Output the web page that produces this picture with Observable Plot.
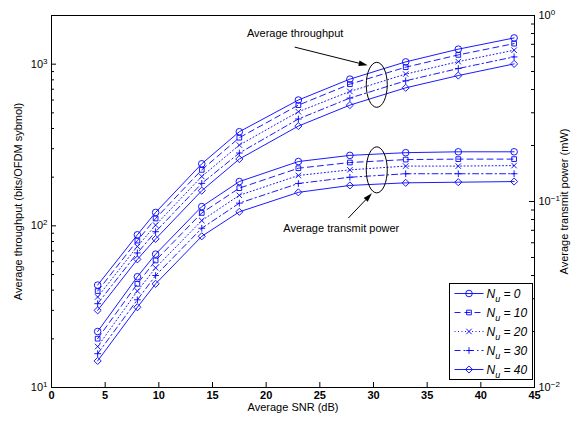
<!DOCTYPE html>
<html><head><meta charset="utf-8">
<script src="https://cdn.jsdelivr.net/npm/d3@7"></script>
<script src="https://cdn.jsdelivr.net/npm/@observablehq/plot@0.6"></script>
<style>
body{margin:0;background:#fff;}
#wrap{position:relative;width:574px;height:422px;font-family:"Liberation Sans",Arial,sans-serif;}
#wrap svg{position:absolute;left:0;top:0;}
</style></head><body><div id="wrap"></div>
<script>
// ---------- data ----------
const snr = [4.3, 8, 9.7, 14, 17.5, 23, 27.8, 33, 37.9, 43.1];
const nuLabels = ["0", "10", "20", "30", "40"];

// average throughput (bits/OFDM symbol), left axis
const thrNu0  = [43, 88, 121, 242, 382, 600, 808, 1033, 1238, 1453];
const thrNu10 = [39.5, 81, 111, 222, 351, 558, 752, 958, 1141, 1340];
const thrNu20 = [36.3, 74.5, 101, 202, 316, 508, 678, 868, 1037, 1220];
const thrNu30 = [33, 68, 92, 183, 282, 458, 617, 789, 940, 1109];
const thrNu40 = [30, 62, 83, 165, 259, 414, 558, 714, 850, 1004];

// average transmit power (mW), right axis
const powNu0  = [0.0200, 0.0394, 0.0521, 0.0939, 0.128, 0.164, 0.177, 0.183, 0.185, 0.185];
const powNu10 = [0.0183, 0.0361, 0.0482, 0.0868, 0.118, 0.151, 0.162, 0.168, 0.169, 0.169];
const powNu20 = [0.0166, 0.0330, 0.0440, 0.0790, 0.108, 0.138, 0.148, 0.155, 0.155, 0.156];
const powNu30 = [0.0152, 0.0296, 0.0400, 0.0718, 0.098, 0.125, 0.135, 0.141, 0.141, 0.141];
const powNu40 = [0.0139, 0.0270, 0.0361, 0.0650, 0.088, 0.112, 0.122, 0.126, 0.127, 0.128];

const xTicks = [0, 5, 10, 15, 20, 25, 30, 35, 40, 45];
const leftMajor = [10, 100, 1000];
const leftExponents = ["1", "2", "3"];
const leftMinor = [20, 30, 40, 50, 60, 70, 80, 90, 200, 300, 400, 500, 600, 700, 800, 900];
const rightMajor = [0.01, 0.1, 1];
const rightExponents = ["\u22122", "\u22121", "0"];
const rightMinor = [0.02, 0.03, 0.04, 0.05, 0.06, 0.07, 0.08, 0.09, 0.2, 0.3, 0.4, 0.5, 0.6, 0.7, 0.8, 0.9];

// annotations (data coordinates)
const thrNote = [{text: "Average throughput", x: 22.7, y: 1540}];
const thrArrow = [{x1: 22.7, y1: 1266, x2: 29.5, y2: 976}];
const thrEllipse = [{x: 30.35, y: 740}];
const powNote = [{text: "Average transmit power", x: 27.0, y: 0.0717}];
const powArrow = [{x1: 27.7, y1: 0.081, x2: 29.9, y2: 0.110}];
const powEllipse = [{x: 30.35, y: 0.147}];

// ---------- layout / style ----------
const W = 574, H = 422, mL = 51, mR = 40, mT = 15, mB = 35;
const plotW = W - mL - mR, plotH = H - mT - mB;
const blue = "#0000ff";
const font = '"Liberation Sans", Arial, sans-serif';
const styles = [
  {symbol: "circle", r: 3.3, dash: null},
  {symbol: "square2", r: 3.0, dash: "6,4"},
  {symbol: "times", r: 2.6, dash: "1,2.5"},
  {symbol: "plus", r: 2.3, dash: "6,3,1.5,3"},
  {symbol: "diamond2", r: 3.2, dash: null}
];
const thrSeries = [thrNu0, thrNu10, thrNu20, thrNu30, thrNu40];
const powSeries = [powNu0, powNu10, powNu20, powNu30, powNu40];
const rowsOf = (arr) => arr.map((v, j) => ({snr: snr[j], v}));

function seriesMarks(seriesList) {
  const marks = [];
  seriesList.forEach((vals, i) => {
    const s = styles[i], rows = rowsOf(vals);
    marks.push(Plot.line(rows, {x: "snr", y: "v", stroke: blue, strokeWidth: 0.9, strokeDasharray: s.dash}));
  });
  seriesList.forEach((vals, i) => {
    const s = styles[i], rows = rowsOf(vals);
    marks.push(Plot.dot(rows, {x: "snr", y: "v", symbol: () => s.symbol, r: s.r, stroke: blue, fill: "none", strokeWidth: 0.9}));
  });
  return marks;
}

function ellipseMark(data, rx, ry) {
  return (index, scales) => {
    const g = d3.create("svg:g");
    for (const d of data) {
      g.append("ellipse").attr("cx", scales.x(d.x)).attr("cy", scales.y(d.y))
        .attr("rx", rx).attr("ry", ry).attr("fill", "none").attr("stroke", "black").attr("stroke-width", 1);
    }
    return g.node();
  };
}
function arrowMark(data) {
  return (index, scales) => {
    const g = d3.create("svg:g");
    for (const d of data) {
      const x1 = scales.x(d.x1), y1 = scales.y(d.y1), x2 = scales.x(d.x2), y2 = scales.y(d.y2);
      const a = Math.atan2(y2 - y1, x2 - x1), L = 9, w = 2.8;
      const bx = x2 - L * Math.cos(a), by = y2 - L * Math.sin(a);
      g.append("line").attr("x1", x1).attr("y1", y1).attr("x2", bx).attr("y2", by).attr("stroke", "black").attr("stroke-width", 1);
      g.append("path").attr("d", `M${x2},${y2}L${bx + w * Math.sin(a)},${by - w * Math.cos(a)}L${bx - w * Math.sin(a)},${by + w * Math.cos(a)}Z`).attr("fill", "black");
    }
    return g.node();
  };
}

const common = {
  width: W, height: H, marginLeft: mL, marginRight: mR, marginTop: mT, marginBottom: mB,
  style: {fontFamily: font, fontSize: "11px", background: "transparent", overflow: "visible", color: "black"},
  x: {domain: [0, 45]}
};

// ---------- plot 1: throughput (left axis) ----------
const p1 = Plot.plot({
  ...common,
  y: {type: "log", domain: [10, 2000]},
  marks: [
    ...seriesMarks(thrSeries),
    Plot.frame({stroke: "black", strokeWidth: 1}),
    Plot.axisX({ticks: xTicks, tickSize: 0, tickPadding: 4, label: null, tickFormat: d => String(d), fontWeight: "bold"}),
    Plot.tickX(xTicks, {x: d => d, insetTop: plotH - 5, stroke: "black"}),
    Plot.axisY({anchor: "left", ticks: leftMajor, tickSize: 0, tickPadding: 4, label: null,
      tickFormat: d => "10^" + leftExponents[leftMajor.indexOf(d)]}),
    Plot.tickY(leftMajor, {y: d => d, insetRight: plotW - 5, stroke: "black"}),
    Plot.tickY(leftMinor, {y: d => d, insetRight: plotW - 3, stroke: "black"}),
    Plot.text(thrNote, {x: "x", y: "y", text: "text", fontSize: 11}),
    arrowMark(thrArrow),
    ellipseMark(thrEllipse, 10.5, 22.5),
    Plot.text(["Average throughput (bits/OFDM sybmol)"], {frameAnchor: "left", textAnchor: "middle", dx: -33, rotate: -90, fontSize: 11}),
    Plot.text(["Average SNR (dB)"], {frameAnchor: "bottom", dy: 23, fontSize: 11})
  ]
});

// ---------- plot 2: transmit power (right axis) ----------
const p2 = Plot.plot({
  ...common,
  x: {domain: [0, 45], axis: null},
  y: {type: "log", domain: [0.01, 1], axis: null},
  marks: [
    ...seriesMarks(powSeries),
    Plot.axisY({anchor: "right", ticks: rightMajor, tickSize: 0, tickPadding: 4, label: null,
      tickFormat: d => "10^" + rightExponents[rightMajor.indexOf(d)]}),
    Plot.tickY(rightMajor, {y: d => d, insetLeft: plotW - 5, stroke: "black"}),
    Plot.tickY(rightMinor, {y: d => d, insetLeft: plotW - 3, stroke: "black"}),
    Plot.text(powNote, {x: "x", y: "y", text: "text", fontSize: 11}),
    arrowMark(powArrow),
    ellipseMark(powEllipse, 10.5, 23),
    Plot.text(["Average transmit power (mW)"], {frameAnchor: "right", textAnchor: "middle", dx: 30, rotate: -90, fontSize: 11})
  ]
});

// superscript exponents in log-axis tick labels
function superscriptTicks(svg) {
  d3.select(svg).selectAll("text").each(function() {
    const t = this.textContent;
    if (/^10\^/.test(t) && this.childElementCount === 0) {
      const exp = t.slice(3);
      const el = d3.select(this);
      el.text(null);
      el.append("tspan").text("10");
      el.append("tspan").attr("font-size", 8).attr("dy", "-0.5em").text(exp);
    }
  });
}
superscriptTicks(p1);
superscriptTicks(p2);

const wrap = document.getElementById("wrap");
wrap.appendChild(p1);
wrap.appendChild(p2);

// ---------- legend ----------
const leg = d3.select(wrap).append("svg").attr("width", W).attr("height", H)
  .style("font-family", font);
const lx = 449.5, ly = 283.5, lw = 83, lh = 96;
leg.append("rect").attr("x", lx).attr("y", ly).attr("width", lw).attr("height", lh)
  .attr("fill", "white").attr("stroke", "black").attr("stroke-width", 1);
const symMap = {circle: d3.symbolCircle, square2: d3.symbolSquare2, times: d3.symbolTimes, plus: d3.symbolPlus, diamond2: d3.symbolDiamond2};
nuLabels.forEach((lab, i) => {
  const s = styles[i];
  const cy = ly + 10 + i * 19;
  leg.append("line").attr("x1", lx + 5).attr("x2", lx + 34).attr("y1", cy).attr("y2", cy)
    .attr("stroke", blue).attr("stroke-width", 0.9).attr("stroke-dasharray", s.dash);
  leg.append("path").attr("d", d3.symbol(symMap[s.symbol], Math.PI * s.r * s.r)())
    .attr("transform", `translate(${lx + 19.5},${cy})`).attr("fill", "none").attr("stroke", blue).attr("stroke-width", 0.9);
  const t = leg.append("text").attr("x", lx + 37).attr("y", cy + 4).attr("font-size", 12).attr("font-style", "italic");
  t.append("tspan").text("N");
  t.append("tspan").attr("font-size", 9).attr("dy", 4).text("u");
  t.append("tspan").attr("dy", -4).text(" = " + lab);
});
</script></body></html>
